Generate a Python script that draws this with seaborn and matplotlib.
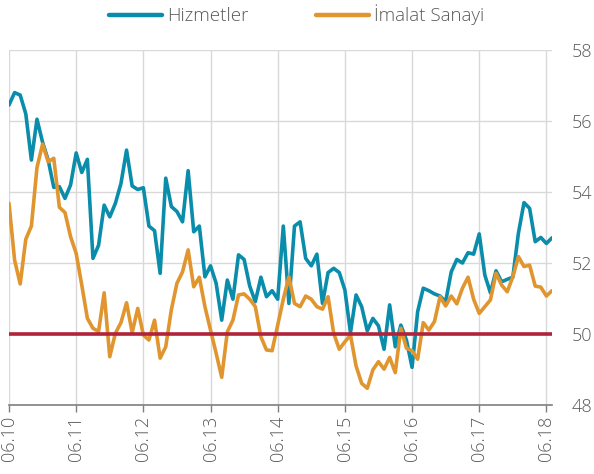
import numpy as np
import pandas as pd
import matplotlib
matplotlib.use("Agg")
import matplotlib.pyplot as plt
import seaborn as sns
from matplotlib.lines import Line2D

hizmetler = [56.45, 56.8, 56.73, 56.2, 54.9, 56.05, 55.4, 54.9, 54.13, 54.15,
             53.82, 54.2, 55.1, 54.55, 54.92, 52.13, 52.5, 53.63, 53.3, 53.68,
             54.24, 55.18, 54.17, 54.07, 54.12, 53.04, 52.91, 51.71, 54.39, 53.59,
             53.45, 53.16, 54.6, 52.88, 53.04, 51.61, 51.92, 51.43, 50.39, 51.52,
             50.98, 52.23, 52.1, 51.35, 50.91, 51.6, 51.05, 51.22, 50.98, 53.04,
             50.86, 53.04, 53.16, 52.13, 51.92, 52.25, 50.86, 51.73, 51.85, 51.73,
             51.24, 50.04, 51.1, 50.77, 50.09, 50.44, 50.23, 49.57, 50.82, 49.64,
             50.25, 49.83, 49.06, 50.63, 51.29, 51.22, 51.13, 51.07, 50.91, 51.75,
             52.1, 52.0, 52.29, 52.25, 52.82, 51.66, 51.16, 51.78, 51.47, 51.54,
             51.6, 52.84, 53.7, 53.54, 52.6, 52.72, 52.55, 52.71]

imalat = [53.68, 52.08, 51.41, 52.67, 53.04, 54.69, 55.35, 54.85, 54.95, 53.57,
          53.42, 52.74, 52.27, 51.38, 50.44, 50.16, 50.07, 51.16, 49.36, 50.02,
          50.32, 50.88, 50.04, 50.72, 49.97, 49.83, 50.39, 49.32, 49.64, 50.68,
          51.43, 51.75, 52.37, 51.33, 51.6, 50.77, 50.11, 49.46, 48.78, 50.06,
          50.39, 51.1, 51.13, 50.98, 50.77, 49.92, 49.55, 49.53, 50.25, 50.98,
          51.61, 50.86, 50.77, 51.07, 50.98, 50.77, 50.7, 51.05, 50.02, 49.57,
          49.78, 49.97, 49.1, 48.61, 48.47, 48.99, 49.22, 49.01, 49.34, 48.91,
          50.16, 49.6, 49.53, 49.29, 50.32, 50.11, 50.35, 51.05, 50.79, 51.07,
          50.85, 51.29, 51.6, 50.98, 50.58, 50.77, 50.96, 51.71, 51.38, 51.19,
          51.61, 52.18, 51.9, 51.94, 51.35, 51.32, 51.07, 51.22]

tick_labels = ["06.10", "06.11", "06.12", "06.13", "06.14", "06.15", "06.16", "06.17", "06.18"]
y_ticks = [48, 50, 52, 54, 56, 58]
threshold = 50

months = np.arange(len(hizmetler))
df = pd.DataFrame({
    "month": np.concatenate([months, months]),
    "value": hizmetler + imalat,
    "series": ["Hizmetler"] * len(hizmetler) + ["İmalat Sanayi"] * len(imalat),
})

sns.set_theme(style="white")
plt.rcParams["font.family"] = ["Open Sans", "DejaVu Sans"]
plt.rcParams["font.weight"] = "light"

fig = plt.figure(figsize=(5.94, 4.74), dpi=100)
ax = fig.add_axes([9/594, 1 - 405/474, (552 - 9)/594, (405 - 50)/474])

palette = {"Hizmetler": "#0a8dab", "İmalat Sanayi": "#e0952f"}
sns.lineplot(data=df, x="month", y="value", hue="series", palette=palette,
             linewidth=2.6, ax=ax, legend=False, zorder=3)
ax.axhline(threshold, color="#b0233a", linewidth=2.6, zorder=4)

ax.set_xlim(0, len(hizmetler) - 1)
ax.set_ylim(48, 58)
ax.set_xticks(np.arange(0, 12 * len(tick_labels), 12))
ax.set_xticklabels(tick_labels, rotation=90, fontsize=13, color="#595959")
ax.set_yticks(y_ticks)
ax.set_yticklabels([str(v) for v in y_ticks], fontsize=13, color="#595959")
ax.yaxis.tick_right()
ax.tick_params(axis="y", length=0, pad=14)
ax.tick_params(axis="x", length=5, width=1, color="#7f7f7f", direction="out", pad=3, bottom=True)
ax.grid(True, color="#d9d9d9", linewidth=1)
ax.set_axisbelow(True)
for s in ["top", "left", "right"]:
    ax.spines[s].set_visible(False)
ax.spines["bottom"].set_color("#7f7f7f")
ax.spines["bottom"].set_linewidth(1.2)
ax.set_xlabel("")
ax.set_ylabel("")

handles = [Line2D([], [], color=palette["Hizmetler"], linewidth=3.2, solid_capstyle="round"),
           Line2D([], [], color=palette["İmalat Sanayi"], linewidth=3.2, solid_capstyle="round")]
fig.legend(handles, ["Hizmetler", "İmalat Sanayi"], loc="center", bbox_to_anchor=(0.5, 1 - 15/474),
           ncol=2, frameon=False, fontsize=13.5, handlelength=2.8, handletextpad=0.3,
           columnspacing=3.6, labelcolor="#595959")

fig.savefig("out.png", dpi=100)
